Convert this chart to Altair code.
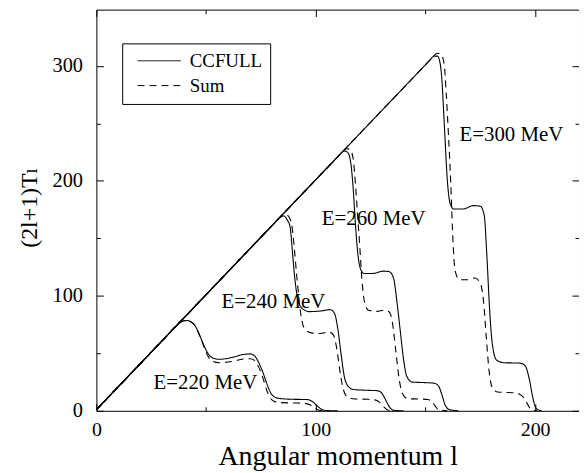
import altair as alt
import pandas as pd

FONT = "Liberation Serif, Times New Roman, Times, DejaVu Serif, serif"

# ---- curve data: l values and (2l+1)T_l values ----
e220_ccfull_l = [0, 10, 20, 30, 36, 38, 40, 41.5, 43, 45, 47, 49, 51, 53, 56, 62, 67, 70, 72, 74, 76, 78, 80, 83, 90, 96, 98.5, 100.5, 102.5, 105, 110]
e220_ccfull_v = [1, 21, 41, 61, 73, 76.5, 78.3, 78.5, 77.5, 74, 66, 57, 49.5, 46, 44.8, 46.5, 49, 49.5, 48, 42, 33, 22, 14, 10.8, 10, 9.8, 8, 4.5, 1.5, 0.2, 0]

e220_sum_l = [0, 10, 20, 30, 36, 38, 40, 41.5, 43, 45, 47, 49, 51, 53, 56, 62, 67, 70, 72, 74, 76, 78, 80, 83, 90, 95, 97.5, 99.5, 101.5, 105]
e220_sum_v = [1, 21, 41, 61, 73, 76.5, 78.3, 78.5, 77.5, 74, 66, 56, 47, 43, 41.8, 43, 45, 45.3, 44, 38, 28, 16, 9.5, 7.2, 6.8, 6.5, 5, 2.5, 0.5, 0]

e240_ccfull_l = [0, 10, 20, 30, 40, 50, 60, 70, 80, 82, 84, 85.5, 87, 88.3, 89.3, 90.3, 91.5, 93, 95, 97, 103, 106.5, 108.5, 110, 111.5, 113, 114.5, 117, 124, 128, 130, 132, 133.5, 135.5, 140]
e240_ccfull_v = [1, 21, 41, 61, 81, 101, 121, 141, 161, 165, 168.5, 169.5, 166, 160, 140, 118, 100, 91, 87.5, 86.3, 87, 88, 85, 72, 50, 30, 22, 18.6, 17.8, 17.5, 15.5, 9, 3.5, 0.5, 0]

e240_sum_l = [0, 10, 20, 30, 40, 50, 60, 70, 80, 83, 85, 86.5, 88, 89.2, 90.3, 91.3, 92.5, 93.7, 95.5, 98, 102, 106, 108, 109.5, 111, 112.5, 114.5, 118, 124, 127, 129, 131, 133, 137]
e240_sum_v = [1, 21, 41, 61, 81, 101, 121, 141, 161, 167, 170, 170.5, 168, 160, 140, 118, 95, 78, 70, 67.8, 67.3, 68.5, 66, 55, 35, 19, 12, 10.3, 10, 9.5, 7.5, 3.5, 0.5, 0]

e260_ccfull_l = [0, 10, 20, 30, 40, 50, 60, 70, 80, 90, 100, 110, 111.5, 113, 114.5, 116, 117, 118, 119, 120.3, 122, 126, 131, 133.5, 135.5, 137, 138.5, 140, 141.5, 144, 150, 154, 156, 157.5, 159, 161, 165]
e260_ccfull_v = [1, 21, 41, 61, 81, 101, 121, 141, 161, 181, 201, 221, 224, 226, 225, 215, 195, 165, 140, 124, 119.5, 119.5, 121.5, 121, 115, 95, 70, 45, 30, 25, 24.5, 24, 21.5, 14, 5, 1, 0]

e260_sum_l = [0, 10, 20, 30, 40, 50, 60, 70, 80, 90, 100, 110, 112, 114, 115.5, 117, 118, 119, 120, 121, 122.3, 124, 128, 131, 133.5, 135, 136.5, 138, 139.5, 142, 148, 151, 153, 154.5, 156, 160]
e260_sum_v = [1, 21, 41, 61, 81, 101, 121, 141, 161, 181, 201, 221, 225, 228, 227.5, 220, 200, 172, 145, 115, 94, 87.5, 86.5, 87.5, 86, 76, 52, 28, 15, 10.5, 10.2, 9.8, 8, 4, 1, 0]

e300_ccfull_l = [0, 10, 20, 30, 40, 50, 60, 70, 80, 90, 100, 110, 120, 130, 140, 150, 152, 154, 155.5, 156.5, 157.3, 158.6, 160, 161.3, 163, 167, 172, 175, 176.8, 178, 179.2, 180.5, 182.5, 186, 193, 195.5, 197.3, 199, 200.5, 203]
e300_ccfull_v = [1, 21, 41, 61, 81, 101, 121, 141, 161, 181, 201, 221, 241, 261, 281, 301, 305, 308.5, 308.5, 304, 293, 249, 200, 180, 175.5, 175.5, 178.5, 178, 170, 135, 90, 58, 44, 41.8, 41.5, 39, 28, 11, 2, 0]

e300_sum_l = [0, 10, 20, 30, 40, 50, 60, 70, 80, 90, 100, 110, 120, 130, 140, 150, 153, 155.3, 157, 158.5, 159.5, 160.5, 161.5, 162.5, 163.5, 165.5, 169, 172.5, 175, 176.5, 177.7, 179, 180.5, 183, 190, 193, 195, 196.5, 198, 201]
e300_sum_v = [1, 21, 41, 61, 81, 101, 121, 141, 161, 181, 201, 221, 241, 261, 281, 301, 307, 311, 310.5, 302, 275, 240, 200, 150, 122, 114, 114, 115.5, 111, 95, 65, 35, 20, 16.3, 15.7, 14.5, 11, 6, 1.5, 0]

models = ["CCFULL", "Sum"]

label_text = ["E=220 MeV", "E=240 MeV", "E=260 MeV", "E=300 MeV"]
label_l = [49.7, 80.7, 126.4, 189.2]
label_v = [24.2, 94.9, 167, 240]

x_ticks_major = [0, 100, 200]
x_ticks_all = [0, 50, 100, 150, 200]
y_ticks_major = [0, 100, 200, 300]
y_ticks_all = [0, 50, 100, 150, 200, 250, 300]

# ---- build tables ----
curves = [
    ("220", "CCFULL", e220_ccfull_l, e220_ccfull_v),
    ("220", "Sum", e220_sum_l, e220_sum_v),
    ("240", "CCFULL", e240_ccfull_l, e240_ccfull_v),
    ("240", "Sum", e240_sum_l, e240_sum_v),
    ("260", "CCFULL", e260_ccfull_l, e260_ccfull_v),
    ("260", "Sum", e260_sum_l, e260_sum_v),
    ("300", "CCFULL", e300_ccfull_l, e300_ccfull_v),
    ("300", "Sum", e300_sum_l, e300_sum_v),
]
rows = []
for e, m, ls, vs in curves:
    for a, b in zip(ls, vs):
        rows.append({"curve": e + m, "model": m, "l": a, "v": b})
df = pd.DataFrame(rows)
labels_df = pd.DataFrame({"text": label_text, "l": label_l, "v": label_v})

W, H = 486, 404
xscale = alt.Scale(domain=[0, 220], nice=False, zero=False)
yscale = alt.Scale(domain=[0, 349], nice=False, zero=False)

tick_size = {"condition": {"test": "datum.value % 100 === 0", "value": 7}, "value": 4}

x_lab = alt.Axis(orient="bottom", values=x_ticks_major, ticks=False, tickSize=0, domain=False,
                 grid=False, labelFont=FONT, labelFontSize=20, labelPadding=9, labelColor="black",
                 labelFlush=False, title="Angular momentum l", titleFont=FONT, titleFontSize=28,
                 titleFontWeight="normal", titleColor="black", titleY=54, titleBaseline="alphabetic")
y_lab = alt.Axis(orient="left", values=y_ticks_major, ticks=False, tickSize=0, domain=False,
                 grid=False, labelFont=FONT, labelFontSize=20.5, labelPadding=14, labelColor="black",
                 labelFlush=False, title="(2l+1)T\u2097", titleFont=FONT, titleFontSize=24,
                 titleFontWeight="normal", titleColor="black", titleX=-67, titleY=199,
                 titleBaseline="middle", titleAngle=270)

x_in_bottom = alt.Axis(orient="top", offset=-H, values=x_ticks_all, labels=False, domain=False,
                       grid=False, tickSize=tick_size, tickColor="black", tickWidth=1, title=None)
y_in_left = alt.Axis(orient="right", offset=-W, values=y_ticks_all, labels=False, domain=False,
                     grid=False, tickSize=tick_size, tickColor="black", tickWidth=1, title=None)
x_in_top = alt.Axis(orient="bottom", offset=-H, values=x_ticks_all, labels=False, domain=False,
                    grid=False, tickSize=tick_size, tickColor="black", tickWidth=1, title=None)
y_in_right = alt.Axis(orient="left", offset=-W, values=y_ticks_all, labels=False, domain=False,
                      grid=False, tickSize=tick_size, tickColor="black", tickWidth=1, title=None)

lines = alt.Chart(df).mark_line(interpolate="monotone", strokeWidth=1.1, color="black").encode(
    x=alt.X("l:Q", scale=xscale, axis=x_lab),
    y=alt.Y("v:Q", scale=yscale, axis=y_lab),
    detail="curve:N",
    strokeDash=alt.StrokeDash(
        "model:N",
        scale=alt.Scale(domain=models, range=[[1, 0], [7, 5]]),
        legend=alt.Legend(title=None, orient="none", legendX=26, legendY=34, padding=8,
                          strokeColor="black", fillColor="white", cornerRadius=0,
                          labelFont=FONT, labelFontSize=19, labelColor="black",
                          symbolType="M-1,0H7.7", symbolSize=100, symbolStrokeColor="black",
                          symbolStrokeWidth=1, symbolOffset=3, labelOffset=38, rowPadding=5),
    ),
)

texts = alt.Chart(labels_df).mark_text(font=FONT, fontSize=21, color="black",
                                       align="center", baseline="middle").encode(
    x=alt.X("l:Q", scale=xscale, axis=x_in_bottom),
    y=alt.Y("v:Q", scale=yscale, axis=y_in_left),
    text="text:N",
)

ghost = alt.Chart(labels_df).mark_point(opacity=0).encode(
    x=alt.X("l:Q", scale=xscale, axis=x_in_top),
    y=alt.Y("v:Q", scale=yscale, axis=y_in_right),
)

chart = alt.layer(lines, texts, ghost).resolve_axis(
    x="independent", y="independent"
).properties(
    width=W, height=H,
    autosize=alt.AutoSizeParams(type="none"),
    padding={"left": 89, "top": 0, "right": 0, "bottom": 60},
).configure_view(stroke="black", strokeWidth=1)

chart.save("out.html", embed_options={"renderer": "svg", "actions": False})
